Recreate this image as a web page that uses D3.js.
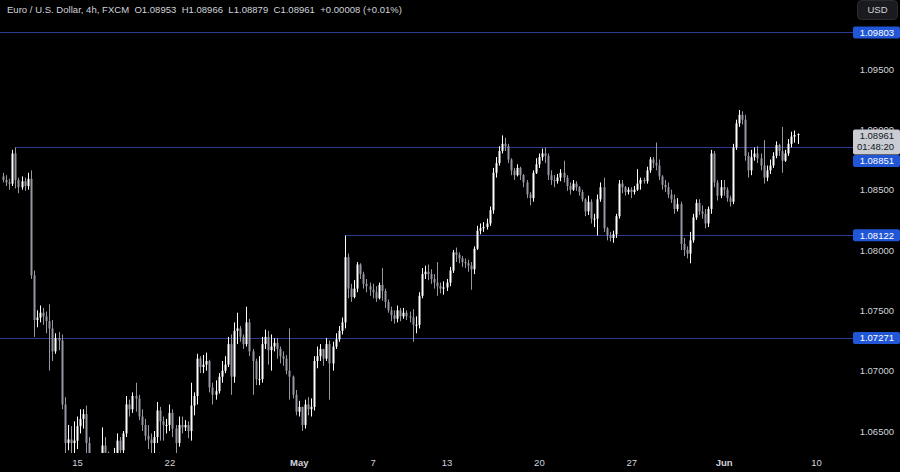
<!DOCTYPE html>
<html>
<head>
<meta charset="utf-8">
<title>Euro / U.S. Dollar, 4h</title>
<script src="https://cdnjs.cloudflare.com/ajax/libs/d3/7.8.5/d3.min.js"></script>
<style>
body { margin: 0; background: #000; overflow: hidden; }
svg { display: block; background: #000; font-family: "Liberation Sans", Arial, sans-serif; }
.axis text { fill: #d1d4dc; font-size: 9.5px; font-family: "Liberation Sans", Arial, sans-serif; }
.axis .month text { font-weight: bold; }
.level { stroke: #2c3a94; stroke-width: 1; shape-rendering: crispEdges; }
</style>
</head>
<body>
<svg id="chart"></svg>
<script>
// EUR/USD 4h candles, Apr 9 -> Jun 7 (6 bars a day)
var firstOpen = 1.0861;

var closes = [
  1.0858,1.0856,1.0855,1.0880,1.0858,1.0852,
  1.0857,1.0853,1.0859,1.0779,1.0742,1.0744,
  1.0748,1.0745,1.0741,1.0735,1.0716,1.0727,
  1.0725,1.0672,1.0640,1.0643,1.0640,1.0642,
  1.0654,1.0660,1.0664,1.0640,1.0625,1.0622,
  1.0618,1.0612,1.0638,1.0632,1.0620,1.0617,
  1.0628,1.0642,1.0634,1.0648,1.0672,1.0668,
  1.0679,1.0677,1.0662,1.0655,1.0646,1.0643,
  1.0640,1.0645,1.0667,1.0658,1.0655,1.0655,
  1.0665,1.0652,1.0640,1.0655,1.0653,1.0655,
  1.0650,1.0671,1.0679,1.0710,1.0703,1.0705,
  1.0708,1.0686,1.0680,1.0683,1.0695,1.0700,
  1.0705,1.0722,1.0695,1.0733,1.0735,1.0728,
  1.0722,1.0740,1.0716,1.0708,1.0693,1.0693,
  1.0722,1.0728,1.0717,1.0720,1.0723,1.0718,
  1.0712,1.0710,1.0700,1.0695,1.0680,1.0666,
  1.0670,1.0655,1.0672,1.0668,1.0670,1.0708,
  1.0712,1.0718,1.0710,1.0722,1.0706,1.0720,
  1.0726,1.0733,1.0740,1.0794,1.0768,1.0761,
  1.0768,1.0788,1.0780,1.0772,1.0770,1.0767,
  1.0765,1.0760,1.0771,1.0766,1.0757,1.0750,
  1.0746,1.0743,1.0750,1.0745,1.0748,1.0745,
  1.0744,1.0738,1.0738,1.0762,1.0780,1.0782,
  1.0780,1.0776,1.0773,1.0770,1.0768,1.0769,
  1.0773,1.0783,1.0798,1.0796,1.0793,1.0790,
  1.0789,1.0787,1.0784,1.0801,1.0816,1.0818,
  1.0819,1.0822,1.0833,1.0864,1.0872,1.0882,
  1.0888,1.0886,1.0875,1.0866,1.0862,1.0868,
  1.0862,1.0856,1.0846,1.0843,1.0864,1.0871,
  1.0877,1.0880,1.0878,1.0862,1.0858,1.0857,
  1.0860,1.0864,1.0860,1.0853,1.0850,1.0855,
  1.0852,1.0848,1.0842,1.0832,1.0840,1.0826,
  1.0826,1.0842,1.0852,1.0818,1.0812,1.0810,
  1.0813,1.0828,1.0855,1.0852,1.0848,1.0850,
  1.0848,1.0850,1.0855,1.0858,1.0857,1.0866,
  1.0875,1.0872,1.0870,1.0861,1.0854,1.0852,
  1.0846,1.0842,1.0834,1.0838,1.0805,1.0800,
  1.0797,1.0808,1.0827,1.0839,1.0832,1.0830,
  1.0822,1.0834,1.0880,1.0856,1.0845,1.0852,
  1.0850,1.0843,1.0840,1.0885,1.0905,1.0912,
  1.0908,1.0878,1.0866,1.0877,1.0880,1.0876,
  1.0870,1.0860,1.0866,1.0870,1.0878,1.0887,
  1.0882,1.0874,1.0880,1.0888,1.0894,1.08953,
  1.08961
];

var highs = [
  1.0864,1.0862,1.0859,1.0883,1.0885,1.0860,
  1.0861,1.0860,1.0864,1.0866,1.0783,1.0750,
  1.0754,1.0752,1.0749,1.0755,1.0742,1.0731,
  1.0732,1.0730,1.0678,1.0655,1.0654,1.0658,
  1.0662,1.0668,1.0668,1.0671,1.0645,1.0629,
  1.0628,1.0622,1.0653,1.0645,1.0633,1.0626,
  1.0636,1.0648,1.0645,1.0650,1.0679,1.0676,
  1.0682,1.0690,1.0680,1.0668,1.0660,1.0655,
  1.0648,1.0650,1.0674,1.0670,1.0662,1.0660,
  1.0672,1.0668,1.0655,1.0662,1.0662,1.0659,
  1.0658,1.0690,1.0682,1.0714,1.0712,1.0713,
  1.0715,1.0709,1.0690,1.0692,1.0698,1.0708,
  1.0712,1.0728,1.0730,1.0740,1.0748,1.0737,
  1.0730,1.0753,1.0743,1.0718,1.0710,1.0712,
  1.0728,1.0734,1.0733,1.0730,1.0727,1.0727,
  1.0720,1.0716,1.0713,1.0735,1.0696,1.0684,
  1.0675,1.0670,1.0676,1.0678,1.0677,1.0712,
  1.0720,1.0722,1.0718,1.0727,1.0725,1.0724,
  1.0731,1.0737,1.0744,1.0812,1.0797,1.0772,
  1.0775,1.0790,1.0789,1.0782,1.0776,1.0773,
  1.0772,1.0770,1.0773,1.0785,1.0768,1.0759,
  1.0753,1.0750,1.0754,1.0752,1.0752,1.0750,
  1.0749,1.0751,1.0745,1.0765,1.0785,1.0787,
  1.0788,1.0784,1.0780,1.0790,1.0773,1.0774,
  1.0776,1.0786,1.0800,1.0802,1.0798,1.0795,
  1.0793,1.0792,1.0790,1.0803,1.0820,1.0822,
  1.0823,1.0826,1.0836,1.0868,1.0877,1.0886,
  1.0895,1.0893,1.0888,1.0876,1.0868,1.0871,
  1.0869,1.0863,1.0858,1.0848,1.0866,1.0876,
  1.0880,1.0884,1.0885,1.0880,1.0866,1.0862,
  1.0863,1.0867,1.0874,1.0862,1.0856,1.0858,
  1.0857,1.0853,1.0850,1.0843,1.0845,1.0842,
  1.0830,1.0846,1.0856,1.0860,1.0819,1.0815,
  1.0816,1.0830,1.0858,1.0858,1.0853,1.0852,
  1.0852,1.0853,1.0867,1.0860,1.0860,1.0869,
  1.0877,1.0877,1.0889,1.0875,1.0862,1.0858,
  1.0856,1.0850,1.0846,1.0843,1.0840,1.0810,
  1.0803,1.0815,1.0830,1.0842,1.0842,1.0837,
  1.0834,1.0836,1.0883,1.0882,1.0858,1.0858,
  1.0858,1.0852,1.0845,1.0888,1.0908,1.0916,
  1.0915,1.0912,1.0881,1.0883,1.0885,1.0886,
  1.0880,1.0891,1.0870,1.0875,1.0881,1.0890,
  1.0888,1.0902,1.0883,1.0892,1.0898,1.0899,
  1.08966
];

var lows = [
  1.0856,1.0853,1.0850,1.0853,1.0851,1.0847,
  1.0850,1.0849,1.0850,1.0776,1.0728,1.0736,
  1.0740,1.0738,1.0731,1.0700,1.0708,1.0714,
  1.0717,1.0668,1.0622,1.0634,1.0630,1.0628,
  1.0635,1.0648,1.0652,1.0627,1.0620,1.0614,
  1.0610,1.0601,1.0608,1.0625,1.0614,1.0611,
  1.0615,1.0625,1.0626,1.0628,1.0645,1.0662,
  1.0665,1.0666,1.0659,1.0650,1.0642,1.0635,
  1.0630,1.0610,1.0640,1.0642,1.0642,1.0648,
  1.0650,1.0645,1.0625,1.0637,1.0648,1.0650,
  1.0644,1.0642,1.0663,1.0672,1.0698,1.0698,
  1.0700,1.0682,1.0672,1.0676,1.0681,1.0690,
  1.0698,1.0703,1.0680,1.0690,1.0722,1.0724,
  1.0718,1.0720,1.0712,1.0680,1.0688,1.0688,
  1.0690,1.0718,1.0705,1.0700,1.0716,1.0710,
  1.0706,1.0704,1.0697,1.0676,1.0677,1.0663,
  1.0662,1.0650,1.0652,1.0663,1.0662,1.0667,
  1.0702,1.0708,1.0704,1.0708,1.0676,1.0700,
  1.0718,1.0724,1.0730,1.0735,1.0760,1.0757,
  1.0760,1.0765,1.0776,1.0768,1.0765,1.0762,
  1.0760,1.0757,1.0759,1.0758,1.0752,1.0748,
  1.0741,1.0739,1.0740,1.0741,1.0743,1.0742,
  1.0740,1.0724,1.0731,1.0735,1.0760,1.0776,
  1.0775,1.0772,1.0768,1.0762,1.0764,1.0763,
  1.0766,1.0770,1.0781,1.0790,1.0789,1.0786,
  1.0785,1.0782,1.0767,1.0780,1.0800,1.0813,
  1.0815,1.0817,1.0820,1.0830,1.0860,1.0870,
  1.0880,1.0882,1.0872,1.0862,1.0858,1.0861,
  1.0858,1.0852,1.0843,1.0837,1.0840,1.0863,
  1.0868,1.0874,1.0872,1.0858,1.0854,1.0852,
  1.0855,1.0857,1.0856,1.0849,1.0846,1.0849,
  1.0849,1.0845,1.0840,1.0828,1.0829,1.0822,
  1.0819,1.0812,1.0840,1.0815,1.0808,1.0807,
  1.0806,1.0810,1.0826,1.0847,1.0845,1.0846,
  1.0843,1.0846,1.0849,1.0850,1.0855,1.0855,
  1.0864,1.0868,1.0866,1.0858,1.0850,1.0848,
  1.0843,1.0839,1.0830,1.0832,1.0800,1.0795,
  1.0793,1.0789,1.0806,1.0825,1.0829,1.0826,
  1.0818,1.0819,1.0830,1.0852,1.0841,1.0843,
  1.0845,1.0840,1.0836,1.0838,1.0883,1.0902,
  1.0904,1.0874,1.0860,1.0862,1.0874,1.0872,
  1.0866,1.0855,1.0857,1.0863,1.0868,1.0876,
  1.0878,1.0864,1.0873,1.0878,1.0885,1.0889,
  1.08879
];

// horizontal levels and the bar each one starts from
var levels = [1.09803, 1.08851, 1.08122, 1.07271];
var levelFrom = [-10, 4, 111, -10];

var priceTicks = [1.065, 1.07, 1.075, 1.08, 1.085, 1.09, 1.095];
var dayTicks = [24, 54, 96, 120, 144, 174, 204, 234, 264];
var dayLabels = ["15", "22", "May", "7", "13", "20", "27", "Jun", "10"];
var countdown = "01:48:20";

var W = 900, H = 472, plotW = 853, plotH = 453;

var candles = closes.map(function(c, i) {
  return {
    i: i,
    open: i === 0 ? firstOpen : closes[i - 1],
    high: highs[i],
    low: lows[i],
    close: c
  };
});

var svg = d3.select("#chart").attr("width", W).attr("height", H);

var x = d3.scaleLinear().domain([0, 264]).range([3.1, 816]);
var y = d3.scaleLinear().domain([1.065, 1.095]).range([431, 69]);

svg.append("defs").append("clipPath").attr("id", "plot")
  .append("rect").attr("x", 0).attr("y", 0).attr("width", plotW).attr("height", plotH);

var plot = svg.append("g").attr("clip-path", "url(#plot)");

// level lines
plot.selectAll(".level")
  .data(levels)
  .enter().append("line")
  .attr("class", "level")
  .attr("x1", function(d, k) { return Math.round(x(levelFrom[k])); })
  .attr("x2", plotW)
  .attr("y1", function(d) { return Math.round(y(d)) + 0.5; })
  .attr("y2", function(d) { return Math.round(y(d)) + 0.5; });

var up = "#ffffff", down = "#9598a1";
function col(d) { return d.close >= d.open ? up : down; }

var cg = plot.selectAll(".candle")
  .data(candles)
  .enter().append("g")
  .attr("class", "candle");

cg.append("line")
  .attr("x1", function(d) { return Math.round(x(d.i)) + 0.5; })
  .attr("x2", function(d) { return Math.round(x(d.i)) + 0.5; })
  .attr("y1", function(d) { return y(Math.max(d.high, d.open, d.close)); })
  .attr("y2", function(d) { return y(Math.min(d.low, d.open, d.close)); })
  .attr("stroke", col)
  .attr("stroke-width", 1);

cg.append("rect")
  .attr("x", function(d) { return Math.round(x(d.i)) - 0.5; })
  .attr("width", 2)
  .attr("y", function(d) { return y(Math.max(d.open, d.close)); })
  .attr("height", function(d) { return Math.max(1, Math.abs(y(d.open) - y(d.close))); })
  .attr("fill", col);

// price scale
var yAxis = svg.append("g")
  .attr("class", "axis")
  .attr("transform", "translate(894,0)")
  .call(d3.axisRight(y).tickValues(priceTicks).tickSize(0).tickPadding(0).tickFormat(d3.format(".5f")));
yAxis.select(".domain").remove();
yAxis.selectAll("text").attr("text-anchor", "end").attr("x", 0).attr("dy", "0.35em");

// time scale
var xAxis = svg.append("g")
  .attr("class", "axis")
  .attr("transform", "translate(0,459)")
  .call(d3.axisBottom(x).tickValues(dayTicks).tickSize(0).tickPadding(0)
    .tickFormat(function(d, k) { return dayLabels[k]; }));
xAxis.select(".domain").remove();
xAxis.selectAll("text").attr("dy", "0.75em");
xAxis.selectAll(".tick").classed("month", function(d, k) { return isNaN(+dayLabels[k]); });

// last price marker (sits over the 1.09000 tick, as on the original)
var last = candles[candles.length - 1];
var lastY = y(last.close);
var fmt = d3.format(".5f");
var lp = svg.append("g");
lp.append("rect")
  .attr("x", 853).attr("y", lastY - 4.5).attr("width", 47).attr("height", 25)
  .attr("rx", 2).attr("fill", "#c9ccd3");
lp.append("text")
  .attr("x", 894).attr("y", lastY + 1.5).attr("dy", "0.35em")
  .attr("text-anchor", "end").attr("fill", "#131722").style("font-size", "9.5px")
  .text(fmt(last.close));
lp.append("text")
  .attr("x", 894).attr("y", lastY + 12.5).attr("dy", "0.35em")
  .attr("text-anchor", "end").attr("fill", "#131722").style("font-size", "9.5px")
  .text(countdown);
var lpBottom = lastY + 20.5;

// level labels on the price scale
var tags = svg.selectAll(".tag")
  .data(levels)
  .enter().append("g")
  .attr("class", "tag")
  .attr("transform", function(d) {
    var cy = y(d);
    if (cy > lastY - 10 && cy < lpBottom + 6) cy = lpBottom + 6.5;
    return "translate(0," + cy + ")";
  });
tags.append("rect")
  .attr("x", 853).attr("y", -6).attr("width", 47).attr("height", 12)
  .attr("rx", 2).attr("fill", "#2157d6");
tags.append("text")
  .attr("x", 894).attr("dy", "0.35em").attr("text-anchor", "end")
  .attr("fill", "#ffffff").style("font-size", "9.5px")
  .text(function(d) { return fmt(d); });

// legend line
var chg = last.close - last.open;
svg.append("text")
  .attr("x", 7).attr("y", 9.5).attr("dy", "0.35em")
  .attr("fill", "#d1d4dc").style("font-size", "9.5px")
  .attr("textLength", 395).attr("lengthAdjust", "spacing")
  .attr("xml:space", "preserve")
  .text("Euro / U.S. Dollar, 4h, FXCM  O" + fmt(last.open) + "  H" + fmt(last.high) +
        "  L" + fmt(last.low) + "  C" + fmt(last.close) + "  " +
        (chg >= 0 ? "+" : "") + fmt(chg) + " (" + (chg >= 0 ? "+" : "") +
        d3.format(".2f")(chg / last.open * 100) + "%)");

// currency button
svg.append("rect")
  .attr("x", 857.5).attr("y", 0.5).attr("width", 40).attr("height", 19)
  .attr("rx", 4).attr("fill", "#1a1b1e").attr("stroke", "#2a2c31");
svg.append("text")
  .attr("x", 877.5).attr("y", 10).attr("dy", "0.35em").attr("text-anchor", "middle")
  .attr("fill", "#d1d4dc").style("font-size", "9.5px").text("USD");
</script>
</body>
</html>
